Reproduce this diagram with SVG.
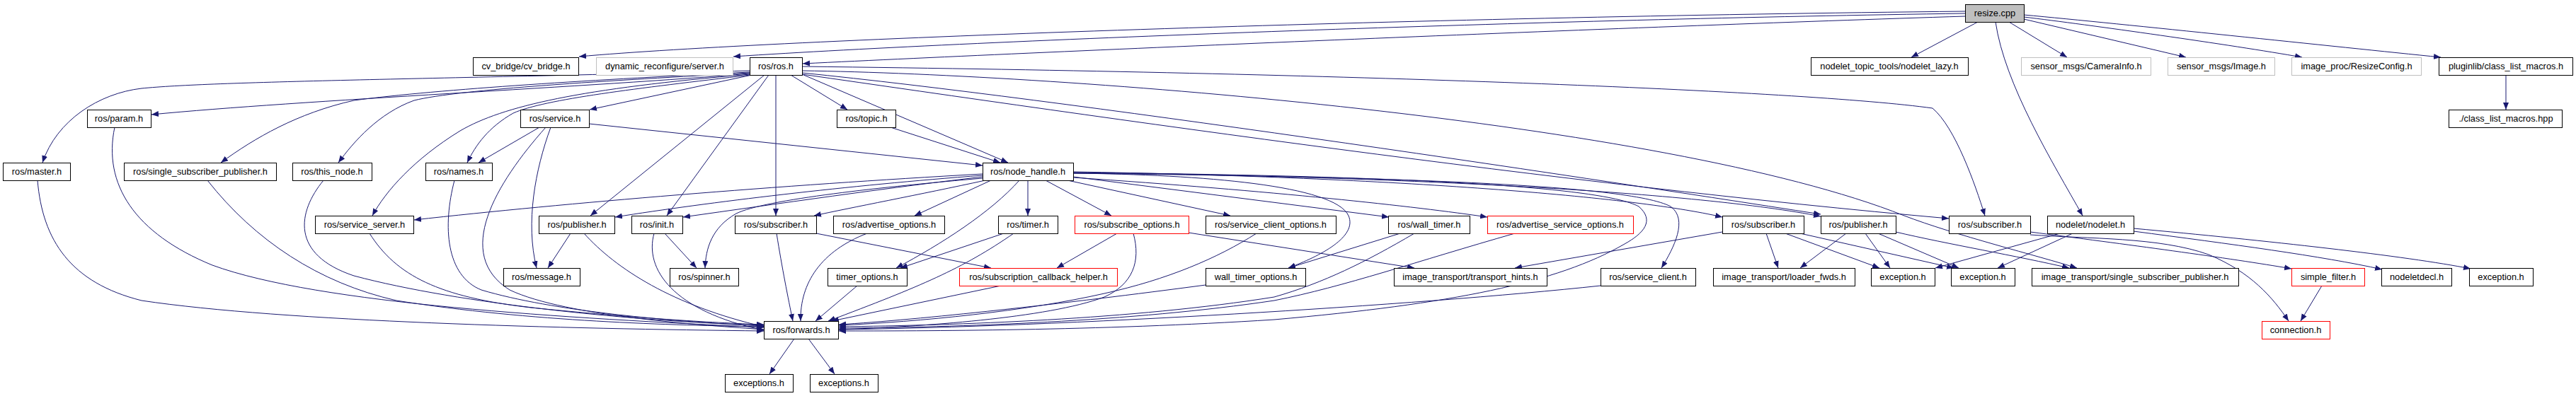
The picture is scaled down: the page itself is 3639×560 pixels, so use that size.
<svg xmlns="http://www.w3.org/2000/svg" width="3639" height="560" viewBox="0 0 3639 560">
<style>
.n rect{fill:#fff;stroke:#000;stroke-width:1}
.g rect{stroke:#bfbfbf}
.r rect{stroke:#ff0000}
.s rect{fill:#bfbfbf}
text{font-family:"Liberation Sans",Arial,sans-serif;font-size:12.8px;fill:#000;text-anchor:middle}
#edges path{fill:none;stroke:#191970;stroke-width:1;marker-end:url(#a)}
</style>
<defs>
<marker id="a" markerUnits="userSpaceOnUse" markerWidth="11" markerHeight="9" refX="10" refY="4" orient="auto"><path d="M0,0 L10,4 L0,8 z" fill="#191970"/></marker>
</defs>
<rect width="3639" height="560" fill="#fff"/>
<g id="edges">
<path d="M2776,16 C2000,24 1100,55 818,80"/>
<path d="M2776,19 C2200,27 1400,56 1036,80"/>
<path d="M2776,23 C2300,38 1500,72 1134,90"/>
<path d="M2794,31 L2700,81"/>
<path d="M2838,31 L2920,81"/>
<path d="M2859,27 L3088,81"/>
<path d="M2859,24 C2950,35 3150,63 3252,81"/>
<path d="M2859,21 C3000,34 3300,66 3448,81"/>
<path d="M2819,31 C2832,120 2900,230 2942,305"/>
<path d="M3540,106 L3540,155"/>
<path d="M1059,104 C850,122 420,142 214,162"/>
<path d="M1059,100 C600,112 300,115 200,125 C140,132 80,170 60,230"/>
<path d="M1059,102 C850,112 620,126 500,142 C420,160 360,195 312,230"/>
<path d="M1059,103 C860,114 650,126 585,142 C535,160 500,200 478,230"/>
<path d="M1060,106 C900,125 770,140 725,160 C690,180 672,205 660,230"/>
<path d="M1062,106 L833,155"/>
<path d="M1060,105 C820,125 710,150 650,185 C585,225 545,270 526,305"/>
<path d="M1080,106 L834,305"/>
<path d="M1086,106 L942,305"/>
<path d="M1096,106 L1096,305"/>
<path d="M1117,106 L1197,155"/>
<path d="M1133,105 L1424,230"/>
<path d="M1133,94 C1900,103 2550,128 2730,153 C2762,180 2790,260 2804,305"/>
<path d="M1133,100 C1500,105 2350,170 2690,305 C2760,332 2880,362 2934,379"/>
<path d="M1133,103 C1500,140 2200,245 2572,303"/>
<path d="M1133,105 C1550,165 2200,260 2753,309"/>
<path d="M1388,246 C1100,262 800,287 585,311"/>
<path d="M1388,248 C1200,262 1000,286 869,307"/>
<path d="M1388,250 C1250,266 1100,288 965,307"/>
<path d="M1388,252 C1250,264 1080,282 1040,302 C1005,322 997,352 996,379"/>
<path d="M1392,255 C1300,275 1200,294 1150,305"/>
<path d="M1400,255 L1292,305"/>
<path d="M1440,255 C1400,300 1330,345 1266,379"/>
<path d="M1452,255 L1452,305"/>
<path d="M1477,255 L1570,305"/>
<path d="M1508,255 L1738,305"/>
<path d="M1516,245 C1700,247 1885,262 1905,305 C1918,335 1865,362 1820,379"/>
<path d="M1516,250 L1962,307"/>
<path d="M1516,251 C1800,270 2000,292 2101,307"/>
<path d="M1516,245 C1950,250 2300,260 2360,292 C2385,310 2365,350 2347,379"/>
<path d="M1516,244 C1950,248 2260,262 2315,292 C2338,312 2322,330 2295,345 C2200,400 2050,430 1800,452 C1550,468 1300,468 1185,468"/>
<path d="M1516,243 C1950,250 2300,276 2433,307"/>
<path d="M1516,244 C2000,250 2400,272 2572,306"/>
<path d="M1258,180 L1413,230"/>
<path d="M832,175 L1388,234"/>
<path d="M762,180 L676,230"/>
<path d="M778,180 C756,240 742,315 758,379"/>
<path d="M771,180 C700,260 640,360 720,410 C800,448 1000,460 1079,466"/>
<path d="M806,330 L774,379"/>
<path d="M825,330 C870,380 950,432 1079,462"/>
<path d="M939,330 L984,379"/>
<path d="M924,330 C910,380 950,440 1079,467"/>
<path d="M1097,330 C1105,380 1113,420 1120,454"/>
<path d="M1153,330 L1400,379"/>
<path d="M1225,330 C1160,355 1130,400 1131,454"/>
<path d="M1211,404 L1152,454"/>
<path d="M1418,330 L1272,379"/>
<path d="M1432,330 C1360,380 1300,405 1170,454"/>
<path d="M1414,404 L1175,454"/>
<path d="M1601,330 C1612,370 1600,402 1560,420 C1480,450 1300,462 1185,466"/>
<path d="M1578,330 L1493,379"/>
<path d="M1679,329 L1998,379"/>
<path d="M1775,330 C1720,365 1650,395 1560,415 C1450,440 1300,455 1185,460"/>
<path d="M1703,403 C1500,430 1300,452 1185,459"/>
<path d="M1978,330 L1820,379"/>
<path d="M1998,330 C1930,370 1870,400 1800,420 C1600,452 1350,460 1185,462"/>
<path d="M2140,330 C2000,370 1900,405 1800,425 C1600,455 1350,463 1185,464"/>
<path d="M2261,404 C2000,432 1500,462 1185,466"/>
<path d="M53,255 C60,340 100,400 200,425 C400,455 800,465 1079,468"/>
<path d="M162,180 C145,260 190,330 300,375 C450,430 800,450 1079,463"/>
<path d="M293,255 C360,340 450,400 560,425 C750,455 950,460 1079,462"/>
<path d="M457,255 C420,300 410,360 500,390 C650,430 900,455 1079,460"/>
<path d="M522,330 C560,390 620,420 750,435 C900,450 1000,456 1079,459"/>
<path d="M642,255 C625,320 630,390 680,410 C780,440 950,455 1079,461"/>
<path d="M1122,479 L1087,529"/>
<path d="M1142,479 L1179,529"/>
<path d="M2495,330 L2512,379"/>
<path d="M2522,330 L2655,379"/>
<path d="M2543,330 L2760,379"/>
<path d="M2433,328 L2140,379"/>
<path d="M2608,330 L2543,379"/>
<path d="M2635,330 L2670,379"/>
<path d="M2653,330 L2767,379"/>
<path d="M2678,328 C2750,345 2850,362 2923,379"/>
<path d="M2868,328 C3000,345 3150,365 3237,380"/>
<path d="M2868,332 C2950,338 3050,335 3120,360 C3180,385 3210,420 3233,454"/>
<path d="M3280,404 L3250,454"/>
<path d="M2910,330 L2734,379"/>
<path d="M2928,330 L2822,379"/>
<path d="M3014,327 C3150,345 3280,362 3365,381"/>
<path d="M3014,323 C3200,340 3400,362 3490,380"/>
</g>
<g id="n0" class="n s"><rect x="2776.5" y="6.5" width="83" height="25"/><text x="2818" y="23">resize.cpp</text></g>
<g id="n1" class="n"><rect x="668.5" y="81.5" width="149" height="25"/><text x="743" y="98">cv_bridge/cv_bridge.h</text></g>
<g id="n2" class="n g"><rect x="842.5" y="81.5" width="193" height="25"/><text x="939" y="98">dynamic_reconfigure/server.h</text></g>
<g id="n3" class="n"><rect x="1059.5" y="81.5" width="74" height="25"/><text x="1096" y="98">ros/ros.h</text></g>
<g id="n4" class="n"><rect x="2558.5" y="81.5" width="222" height="25"/><text x="2669" y="98">nodelet_topic_tools/nodelet_lazy.h</text></g>
<g id="n5" class="n g"><rect x="2855.5" y="81.5" width="183" height="25"/><text x="2947" y="98">sensor_msgs/CameraInfo.h</text></g>
<g id="n6" class="n g"><rect x="3062.5" y="81.5" width="151" height="25"/><text x="3138" y="98">sensor_msgs/Image.h</text></g>
<g id="n7" class="n g"><rect x="3237.5" y="81.5" width="183" height="25"/><text x="3329" y="98">image_proc/ResizeConfig.h</text></g>
<g id="n8" class="n"><rect x="3445.5" y="81.5" width="189" height="25"/><text x="3540" y="98">pluginlib/class_list_macros.h</text></g>
<g id="n9" class="n"><rect x="123.5" y="155.5" width="90" height="25"/><text x="168" y="172">ros/param.h</text></g>
<g id="n10" class="n"><rect x="735.5" y="155.5" width="97" height="25"/><text x="784" y="172">ros/service.h</text></g>
<g id="n11" class="n"><rect x="1182.5" y="155.5" width="83" height="25"/><text x="1224" y="172">ros/topic.h</text></g>
<g id="n12" class="n"><rect x="3459.5" y="155.5" width="160" height="25"/><text x="3540" y="172">./class_list_macros.hpp</text></g>
<g id="n13" class="n"><rect x="4.5" y="230.5" width="95" height="25"/><text x="52" y="247">ros/master.h</text></g>
<g id="n14" class="n"><rect x="175.5" y="230.5" width="215" height="25"/><text x="283" y="247">ros/single_subscriber_publisher.h</text></g>
<g id="n15" class="n"><rect x="413.5" y="230.5" width="112" height="25"/><text x="469" y="247">ros/this_node.h</text></g>
<g id="n16" class="n"><rect x="601.5" y="230.5" width="94" height="25"/><text x="648" y="247">ros/names.h</text></g>
<g id="n17" class="n"><rect x="1388.5" y="230.5" width="128" height="25"/><text x="1452" y="247">ros/node_handle.h</text></g>
<g id="n18" class="n"><rect x="445.5" y="305.5" width="139" height="25"/><text x="515" y="322">ros/service_server.h</text></g>
<g id="n19" class="n"><rect x="761.5" y="305.5" width="107" height="25"/><text x="815" y="322">ros/publisher.h</text></g>
<g id="n20" class="n"><rect x="892.5" y="305.5" width="72" height="25"/><text x="928" y="322">ros/init.h</text></g>
<g id="n21" class="n"><rect x="1038.5" y="305.5" width="115" height="25"/><text x="1096" y="322">ros/subscriber.h</text></g>
<g id="n22" class="n"><rect x="1177.5" y="305.5" width="157" height="25"/><text x="1256" y="322">ros/advertise_options.h</text></g>
<g id="n23" class="n"><rect x="1410.5" y="305.5" width="84" height="25"/><text x="1452" y="322">ros/timer.h</text></g>
<g id="n24" class="n r"><rect x="1518.5" y="305.5" width="161" height="25"/><text x="1599" y="322">ros/subscribe_options.h</text></g>
<g id="n25" class="n"><rect x="1703.5" y="305.5" width="184" height="25"/><text x="1795" y="322">ros/service_client_options.h</text></g>
<g id="n26" class="n"><rect x="1961.5" y="305.5" width="115" height="25"/><text x="2019" y="322">ros/wall_timer.h</text></g>
<g id="n27" class="n r"><rect x="2101.5" y="305.5" width="206" height="25"/><text x="2204" y="322">ros/advertise_service_options.h</text></g>
<g id="n28" class="n"><rect x="2433.5" y="305.5" width="115" height="25"/><text x="2491" y="322">ros/subscriber.h</text></g>
<g id="n29" class="n"><rect x="2572.5" y="305.5" width="106" height="25"/><text x="2625" y="322">ros/publisher.h</text></g>
<g id="n30" class="n"><rect x="2753.5" y="305.5" width="115" height="25"/><text x="2811" y="322">ros/subscriber.h</text></g>
<g id="n31" class="n"><rect x="2892.5" y="305.5" width="122" height="25"/><text x="2953" y="322">nodelet/nodelet.h</text></g>
<g id="n32" class="n"><rect x="711.5" y="379.5" width="108" height="25"/><text x="765" y="396">ros/message.h</text></g>
<g id="n33" class="n"><rect x="946.5" y="379.5" width="97" height="25"/><text x="995" y="396">ros/spinner.h</text></g>
<g id="n34" class="n"><rect x="1169.5" y="379.5" width="112" height="25"/><text x="1225" y="396">timer_options.h</text></g>
<g id="n35" class="n r"><rect x="1355.5" y="379.5" width="223" height="25"/><text x="1467" y="396">ros/subscription_callback_helper.h</text></g>
<g id="n36" class="n"><rect x="1703.5" y="379.5" width="141" height="25"/><text x="1774" y="396">wall_timer_options.h</text></g>
<g id="n37" class="n"><rect x="1969.5" y="379.5" width="216" height="25"/><text x="2077" y="396">image_transport/transport_hints.h</text></g>
<g id="n38" class="n"><rect x="2261.5" y="379.5" width="134" height="25"/><text x="2328" y="396">ros/service_client.h</text></g>
<g id="n39" class="n"><rect x="2420.5" y="379.5" width="200" height="25"/><text x="2520" y="396">image_transport/loader_fwds.h</text></g>
<g id="n40" class="n"><rect x="2643.5" y="379.5" width="90" height="25"/><text x="2688" y="396">exception.h</text></g>
<g id="n41" class="n"><rect x="2756.5" y="379.5" width="90" height="25"/><text x="2801" y="396">exception.h</text></g>
<g id="n42" class="n"><rect x="2870.5" y="379.5" width="292" height="25"/><text x="3016" y="396">image_transport/single_subscriber_publisher.h</text></g>
<g id="n43" class="n r"><rect x="3237.5" y="379.5" width="103" height="25"/><text x="3289" y="396">simple_filter.h</text></g>
<g id="n44" class="n"><rect x="3364.5" y="379.5" width="99" height="25"/><text x="3414" y="396">nodeletdecl.h</text></g>
<g id="n45" class="n"><rect x="3488.5" y="379.5" width="90" height="25"/><text x="3533" y="396">exception.h</text></g>
<g id="n46" class="n"><rect x="1079.5" y="454.5" width="105" height="25"/><text x="1132" y="471">ros/forwards.h</text></g>
<g id="n47" class="n r"><rect x="3195.5" y="454.5" width="96" height="25"/><text x="3243" y="471">connection.h</text></g>
<g id="n48" class="n"><rect x="1024.5" y="529.5" width="96" height="25"/><text x="1072" y="546">exceptions.h</text></g>
<g id="n49" class="n"><rect x="1144.5" y="529.5" width="96" height="25"/><text x="1192" y="546">exceptions.h</text></g>
</svg>
